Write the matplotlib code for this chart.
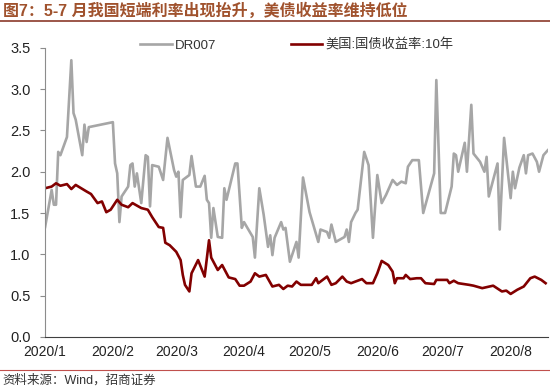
import matplotlib
matplotlib.use("Agg")
import matplotlib.pyplot as plt
import matplotlib.dates as mdates
from matplotlib.ticker import FuncFormatter
from matplotlib.lines import Line2D
import pandas as pd

plt.rcParams['font.family'] = ['Liberation Sans', 'Noto Sans CJK SC']
plt.rcParams['axes.unicode_minus'] = False

# ---- data ----
dr007_dates = [
    "01-01", "01-04", "01-05", "01-06", "01-07", "01-08", "01-11", "01-13", "01-14", "01-15",
    "01-18", "01-19", "01-20", "01-21", "02-01", "02-02", "02-03", "02-04", "02-05", "02-08",
    "02-09", "02-10", "02-11", "02-12", "02-14", "02-16", "02-17", "02-18", "02-19", "02-22",
    "02-24", "02-26", "02-29", "03-01", "03-02", "03-03", "03-04", "03-07", "03-08", "03-10",
    "03-12", "03-14", "03-15", "03-16", "03-17", "03-18", "03-20", "03-22", "03-23", "03-24",
    "03-28", "03-29", "03-31", "04-01", "04-03", "04-05", "04-06", "04-08", "04-10", "04-12",
    "04-13", "04-14", "04-15", "04-18", "04-19", "04-20", "04-22", "04-25", "04-26", "04-28",
    "05-01", "05-05", "05-06", "05-09", "05-10", "05-11", "05-13", "05-17", "05-18", "05-19",
    "05-20", "05-22", "05-23", "05-26", "05-28", "05-30", "06-01", "06-03", "06-05", "06-08",
    "06-10", "06-12", "06-14", "06-15", "06-17", "06-20", "06-22", "06-27", "06-28", "06-30",
    "07-02", "07-05", "07-06", "07-07", "07-08", "07-11", "07-12", "07-14", "07-15", "07-18",
    "07-19", "07-20", "07-21", "07-22", "07-26", "07-27", "07-29", "08-01", "08-02", "08-03",
    "08-05", "08-07", "08-08", "08-09", "08-11", "08-13", "08-14", "08-16", "08-18",
]
dr007_values = [
    1.33, 1.78, 1.60, 1.60, 2.24, 2.20, 2.42, 3.35, 2.71, 2.63,
    2.20, 2.57, 2.36, 2.54, 2.60, 2.10, 1.98, 1.39, 1.70, 1.82,
    2.08, 2.10, 1.82, 1.98, 1.62, 2.20, 2.18, 1.58, 2.08, 2.06,
    1.90, 2.41, 2.02, 1.94, 2.00, 1.45, 1.90, 1.96, 2.19, 1.82,
    1.82, 1.95, 1.66, 1.62, 1.20, 1.56, 1.21, 1.20, 1.80, 1.66,
    2.10, 2.10, 1.32, 1.39, 1.30, 1.21, 0.96, 1.80, 1.48, 1.09,
    1.23, 0.99, 1.20, 1.39, 1.30, 1.32, 0.91, 1.15, 0.96, 1.93,
    1.51, 1.15, 1.30, 1.27, 1.20, 1.36, 1.15, 1.21, 1.30, 1.15,
    1.39, 1.50, 1.54, 2.24, 2.08, 1.20, 1.96, 1.62, 1.72, 1.90,
    1.84, 1.88, 1.86, 2.06, 2.14, 2.14, 1.50, 1.98, 3.11, 1.50,
    1.50, 1.82, 2.22, 2.20, 2.00, 2.35, 2.00, 2.81, 2.22, 2.12,
    2.06, 2.00, 2.18, 1.70, 2.10, 1.30, 2.41, 1.68, 2.00, 1.80,
    2.05, 2.20, 1.98, 2.20, 2.22, 2.12, 2.00, 2.20, 2.26,
]

us10y_dates = [
    "01-01", "01-04", "01-06", "01-08", "01-11", "01-13", "01-15", "01-20", "01-22", "01-25",
    "01-27", "01-29", "01-31", "02-03", "02-05", "02-08", "02-10", "02-14", "02-17", "02-19",
    "02-22", "02-24", "02-25", "02-27", "03-01", "03-03", "03-04", "03-05", "03-07", "03-08",
    "03-11", "03-14", "03-16", "03-17", "03-20", "03-22", "03-25", "03-28", "03-30", "04-01",
    "04-04", "04-06", "04-08", "04-11", "04-14", "04-17", "04-19", "04-21", "04-23", "04-25",
    "04-27", "05-02", "05-04", "05-05", "05-09", "05-11", "05-13", "05-16", "05-18", "05-20",
    "05-25", "05-27", "05-30", "06-01", "06-03", "06-06", "06-08", "06-09", "06-10", "06-13",
    "06-14", "06-16", "06-19", "06-21", "06-23", "06-27", "06-28", "07-03", "07-04", "07-06",
    "07-08", "07-13", "07-15", "07-19", "07-24", "07-28", "07-30", "08-01", "08-04", "08-07",
    "08-10", "08-12", "08-15", "08-17",
]
us10y_values = [
    1.80, 1.82, 1.86, 1.83, 1.85, 1.79, 1.84, 1.76, 1.73, 1.62,
    1.64, 1.51, 1.54, 1.66, 1.60, 1.57, 1.62, 1.56, 1.54, 1.45,
    1.33, 1.32, 1.14, 1.11, 1.03, 0.93, 0.75, 0.63, 0.55, 0.77,
    0.93, 0.73, 1.17, 0.96, 0.81, 0.87, 0.72, 0.70, 0.62, 0.62,
    0.67, 0.77, 0.73, 0.75, 0.61, 0.63, 0.58, 0.62, 0.61, 0.67,
    0.63, 0.63, 0.71, 0.65, 0.73, 0.63, 0.65, 0.73, 0.67, 0.65,
    0.70, 0.65, 0.65, 0.77, 0.92, 0.87, 0.79, 0.65, 0.71, 0.71,
    0.75, 0.70, 0.71, 0.71, 0.65, 0.64, 0.69, 0.69, 0.65, 0.68,
    0.65, 0.63, 0.62, 0.59, 0.62, 0.55, 0.56, 0.52, 0.57, 0.61,
    0.71, 0.73, 0.69, 0.65,
]

series_labels = ["DR007", "美国:国债收益率:10年"]
title_text = "图7：5-7 月我国短端利率出现抬升，美债收益率维持低位"
source_text = "资料来源：Wind，招商证券"

dr_x = pd.to_datetime(["2020-" + d for d in dr007_dates])
us_x = pd.to_datetime(["2020-" + d for d in us10y_dates])

# ---- plot ----
fig = plt.figure(figsize=(5.5, 3.89), dpi=100)
ax = fig.add_axes([0.082, 0.134, 0.914, 0.743])

ax.plot(dr_x, dr007_values, color="#A6A6A6", lw=1.9, label=series_labels[0])
ax.plot(us_x, us10y_values, color="#820000", lw=1.9, label=series_labels[1])

ax.set_ylim(0, 3.5)
ax.set_yticks([0.0, 0.5, 1.0, 1.5, 2.0, 2.5, 3.0, 3.5])
ax.yaxis.set_major_formatter(FuncFormatter(lambda v, p: f"{v:.1f}"))
ax.set_xlim(pd.Timestamp("2020-01-01"), pd.Timestamp("2020-08-18"))
ax.xaxis.set_major_locator(mdates.MonthLocator())
ax.xaxis.set_major_formatter(FuncFormatter(
    lambda v, p: f"{mdates.num2date(v).year}/{mdates.num2date(v).month}"))

for s in ["top", "right"]:
    ax.spines[s].set_visible(False)
ax.spines["left"].set_color("#8C8C8C")
ax.spines["bottom"].set_color("#404040")
ax.tick_params(axis="y", length=3.5, color="#8C8C8C", labelsize=10.5,
               labelcolor="#222222", pad=7)
ax.tick_params(axis="x", length=0, labelsize=10, labelcolor="#222222", pad=6)

handles = [Line2D([], [], color="#A6A6A6", lw=1.9),
           Line2D([], [], color="#820000", lw=1.9)]
leg = fig.legend(handles, series_labels, ncol=2, frameon=False,
                 loc="center", bbox_to_anchor=(0.54, 0.883), fontsize=9.5,
                 handlelength=2.4, handletextpad=0.25, columnspacing=5.6)
for t in leg.get_texts():
    t.set_color("#333333")

fig.text(0.005, 0.974, title_text, color="#A0522D", fontsize=11.5,
         fontweight="bold", ha="left", va="center")
fig.add_artist(Line2D([0, 1], [0.945, 0.945], transform=fig.transFigure,
                      color="#8B3A2A", lw=1.2))
fig.add_artist(Line2D([0, 1], [0.049, 0.049], transform=fig.transFigure,
                      color="#C0504D", lw=0.8))
fig.text(0.005, 0.022, source_text, color="#333333", fontsize=9,
         ha="left", va="center")

fig.savefig("out.png", dpi=100)
